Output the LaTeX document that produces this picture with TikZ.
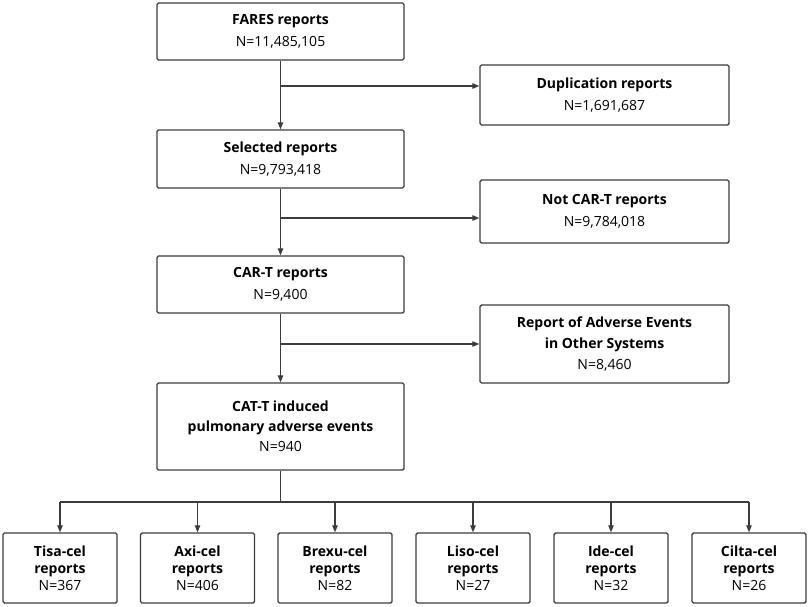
\documentclass[tikz,border=0pt]{standalone}
\usepackage{fontspec}
\setmainfont{Open Sans}
\usetikzlibrary{arrows.meta}
\definecolor{ln}{HTML}{3C3C3C}
\begin{document}
\begin{tikzpicture}[x=1pt,y=-1pt,
  box/.style={draw=ln,line width=1.4pt,rounded corners=1.5pt,align=center,inner sep=0pt,
    font=\fontsize{14}{22}\selectfont,text=black},
  mainbox/.style={box,minimum width=247pt},
  sidebox/.style={box,minimum width=249pt},
  smallbox/.style={box,minimum width=114pt,minimum height=70pt,font=\fontsize{14}{17}\selectfont},
  conn/.style={draw=ln,line width=1.2pt},
  arr/.style={conn,-{Triangle[length=7pt,width=5.5pt]}}]
\useasboundingbox (0,0) rectangle (809,606);
\node[mainbox,minimum height=57pt] (fares) at (280.5,31.5) {\textbf{FARES reports}\\N=11,485,105};
\node[sidebox,minimum height=60pt] (dup) at (604.5,95) {\textbf{Duplication reports}\\N=1,691,687};
\node[mainbox,minimum height=58pt] (sel) at (280.5,159) {\textbf{Selected reports}\\N=9,793,418};
\node[sidebox,minimum height=63pt] (notc) at (604.5,211.5) {\textbf{Not CAR-T reports}\\N=9,784,018};
\node[mainbox,minimum height=57pt] (cart) at (280.5,284.5) {\textbf{CAR-T reports}\\N=9,400};
\node[sidebox,minimum height=78pt,font=\fontsize{14}{21}\selectfont] (adv) at (604.5,344) {\textbf{Report of Adverse Events}\\\textbf{in Other Systems}\\N=8,460};
\node[mainbox,minimum height=87pt,font=\fontsize{14}{20}\selectfont] (catt) at (280.5,426.5) {\textbf{CAT-T induced}\\\textbf{pulmonary adverse events}\\N=940};
\node[smallbox] (b1) at (60,568) {\textbf{Tisa-cel}\\\textbf{reports}\\N=367};
\node[smallbox] (b2) at (197.5,568) {\textbf{Axi-cel}\\\textbf{reports}\\N=406};
\node[smallbox] (b3) at (335,568) {\textbf{Brexu-cel}\\\textbf{reports}\\N=82};
\node[smallbox] (b4) at (473,568) {\textbf{Liso-cel}\\\textbf{reports}\\N=27};
\node[smallbox] (b5) at (611,568) {\textbf{Ide-cel}\\\textbf{reports}\\N=32};
\node[smallbox] (b6) at (749,568) {\textbf{Cilta-cel}\\\textbf{reports}\\N=26};
\coordinate (j1) at (280.5,86);
\coordinate (j2) at (280.5,218);
\coordinate (j3) at (280.5,344);
\coordinate (j4) at (280.5,502);
\draw[arr] (fares.south) -- (sel.north);
\draw[arr] (j1) -- (dup.west |- j1);
\draw[arr] (sel.south) -- (cart.north);
\draw[arr] (j2) -- (notc.west |- j2);
\draw[arr] (cart.south) -- (catt.north);
\draw[arr] (j3) -- (adv.west |- j3);
\draw[conn] (catt.south) -- (j4);
\draw[conn] (b1.north |- j4) -- (b6.north |- j4);
\foreach \b in {b1,b2,b3,b4,b5,b6} \draw[arr] (\b.north |- j4) -- (\b.north);
\end{tikzpicture}
\end{document}
